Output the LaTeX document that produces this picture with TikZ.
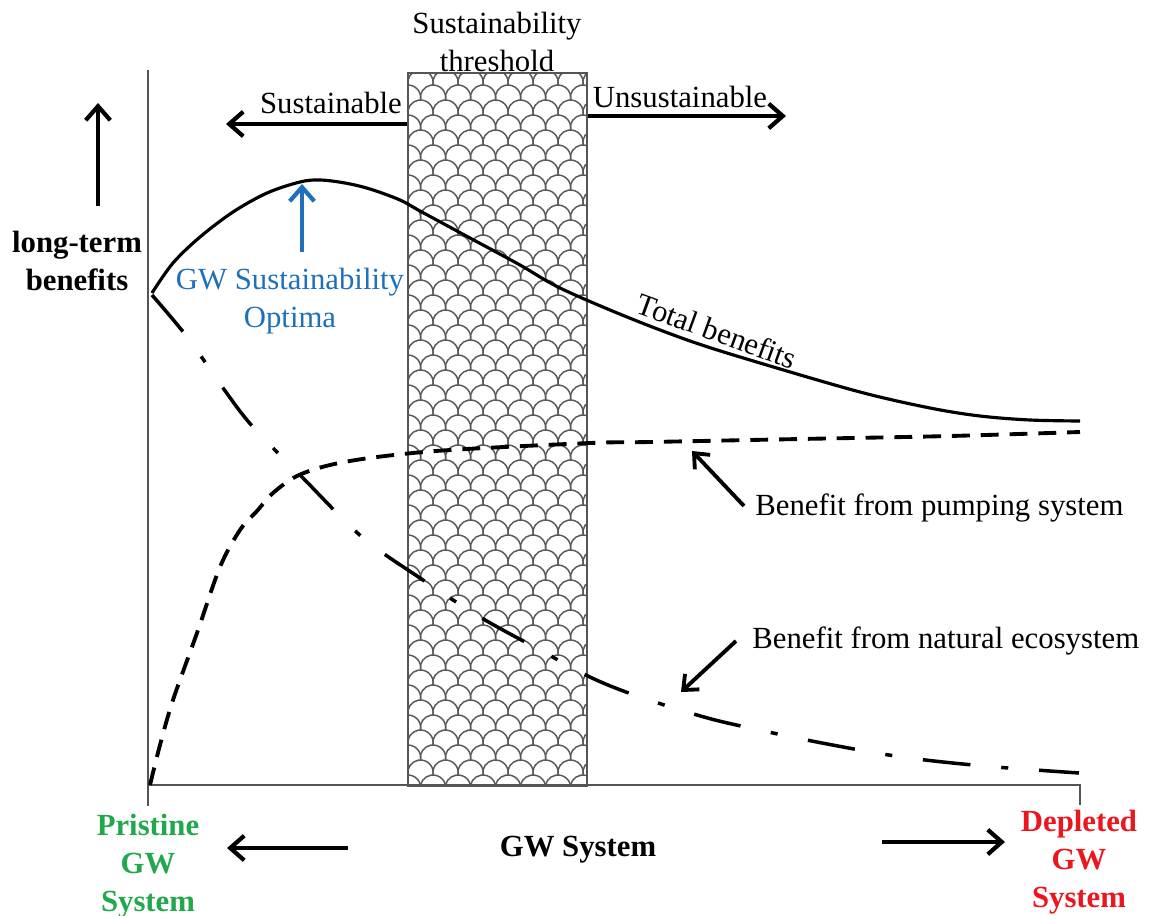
\documentclass[tikz,border=0pt]{standalone}
\usepackage{fontspec}
\setmainfont{Liberation Serif}
\usetikzlibrary{arrows.meta}
\definecolor{pgreen}{RGB}{33,168,76}
\definecolor{pred}{RGB}{236,22,30}
\definecolor{pblue}{RGB}{30,112,186}
\definecolor{axisgray}{RGB}{85,85,85}
\definecolor{scalegray}{RGB}{90,90,90}
\begin{document}
\begin{tikzpicture}[x=0.02cm,y=-0.02cm,
  lbl/.style={font=\fontsize{17.5}{21.5}\selectfont, inner sep=0pt, align=center},
  blbl/.style={font=\fontsize{17.5}{21.5}\selectfont\bfseries, inner sep=0pt, align=center},
  axisline/.style={draw=axisgray, line width=1.1pt},
  scaleline/.style={draw=scalegray, line width=0.85pt},
  bigarrow/.style={line width=2.4pt, -{Straight Barb[length=8pt,width=14pt,line width=2.4pt]}},
  thinarrow/.style={line width=2.2pt, -{Straight Barb[length=7pt,width=12pt,line width=2.2pt]}},
  totalcurve/.style={line width=1.8pt},
  pumpcurve/.style={line width=2.2pt, dash pattern=on 10.2pt off 6.2pt},
  natcurve/.style={line width=2pt, dash pattern=on 27.2pt off 17.6pt on 4pt off 17.6pt},
]
\useasboundingbox (0,0) rectangle (1157,916);

% threshold box with fish-scale pattern
\begin{scope}
  \clip (407,72) rectangle (586,785);
  \foreach \r in {0,...,49} {
    \foreach \c in {0,...,8} {
      \pgfmathsetmacro\cx{408 + 25*\c - 12.5*mod(\r,2)}
      \pgfmathsetmacro\cy{55 + 15*\r}
      \draw[scaleline] (\cx-12.5,\cy+15) arc[start angle=169.6,end angle=370.4,radius=12.71];
    }
  }
\end{scope}
\node[draw=axisgray, line width=1.1pt, minimum width=179*0.02cm, minimum height=713*0.02cm, inner sep=0pt, anchor=north west] (box) at (407,72) {};

% axes
\coordinate (ytop) at (148,70);
\coordinate (ybot) at (148,806);
\coordinate (xend) at (1080,785);
\coordinate (xtick) at (1080,805);
\draw[axisline] (ytop) -- (ybot);
\draw[axisline] (148,785) -- (xend) -- (xtick);

% curves
\draw[totalcurve] plot[smooth, tension=0.55] coordinates {(152,293) (173,263) (200,237) (233,212) (267,193) (300,182) (320,180) (345,183) (370,189) (400,200) (420,211) (470,238) (520,265) (560,288) (627,317) (693,342) (760,363) (860,392) (930,408) (980,416) (1030,420) (1080,421)};
\draw[pumpcurve] plot[smooth, tension=0.55] coordinates {(150,785) (160,745) (173,700) (197,633) (220,567) (240,530) (257,511) (273,493) (297,476) (330,465) (377,457) (450,450) (590,443) (650,442) (800,439) (950,436) (1080,432)};
\draw[natcurve] plot[smooth, tension=0.55] coordinates {(152,295) (188,338) (223,388) (253,427) (303,478) (362,537) (420,578) (480,617) (540,650) (592,678) (640,697) (704,717) (750,728) (822,743) (902,757) (984,766) (1079,773)};

% top labels
\node[lbl] (thr) at (497,42) {Sustainability\\threshold};
\node[lbl, anchor=base] (sus) at (331,113) {Sustainable};
\node[lbl, anchor=base] (uns) at (680,107) {Unsustainable};
\coordinate (susL) at (226,124);
\coordinate (unsR) at (786,116);
\draw[bigarrow] (box.west |- susL) -- (susL);
\draw[bigarrow] (box.east |- unsR) -- (unsR);

% y-axis label
\coordinate (upB) at (98,206);
\coordinate (upT) at (98,103);
\draw[bigarrow] (upB) -- (upT);
\node[blbl] (ltb) at (77,261) {long-term\\benefits};

% optimum
\node[lbl, text=pblue] (opt) at (290,301) {GW Sustainability\\Optima};
\coordinate (optTip) at (302,184);
\draw[bigarrow, draw=pblue] (302,252) -- (optTip);

% curve labels
\node[lbl, rotate=-20] (tot) at (717,331) {Total benefits};
\node[lbl, anchor=base west] (pump) at (755,515) {Benefit from pumping system};
\node[lbl, anchor=base west] (nat) at (752,648) {Benefit from natural ecosystem};
\coordinate (pumpTip) at (692,451);
\coordinate (natTip) at (681,692);
\draw[thinarrow] (744,506) -- (pumpTip);
\draw[thinarrow] (736,641) -- (natTip);

% bottom labels
\node[blbl, text=pgreen] (pris) at (148,866) {Pristine\\GW\\System};
\node[blbl, text=pred] (depl) at (1079,862) {Depleted\\GW\\System};
\node[blbl] (gws) at (578,850) {GW System};
\coordinate (leftTip) at (227,848);
\coordinate (rightTip) at (1005,842);
\draw[bigarrow] (348,848) -- (leftTip);
\draw[bigarrow] (882,842) -- (rightTip);
\end{tikzpicture}
\end{document}
